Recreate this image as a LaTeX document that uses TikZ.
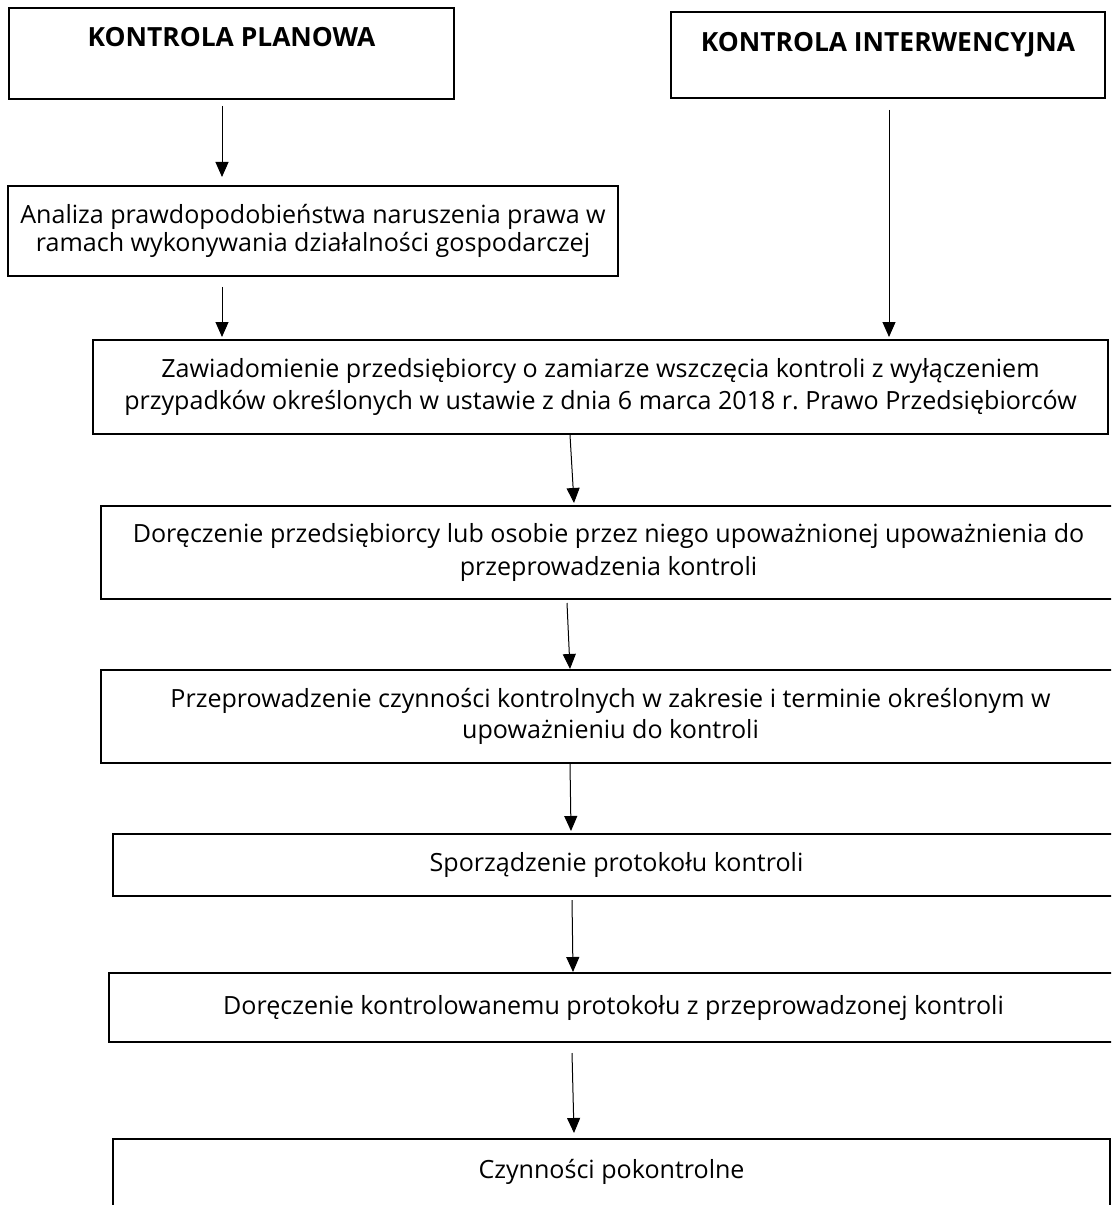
\documentclass[tikz,border=0pt]{standalone}
\usepackage{fontspec}
\setmainfont{Open Sans}
\usetikzlibrary{arrows.meta}
\frenchspacing
\newdimen\pxu
\pxu=0.75pt
\tikzset{
  box/.style={draw=black, line width=1.05pt, inner xsep=0pt, inner ysep=0pt, outer sep=0pt,
    anchor=north west, align=center, font=\fontsize{18.8}{24.5}\selectfont},
  topbox/.style={box, font=\fontsize{19.8}{24.5}\selectfont\bfseries},
  arr/.style={draw=black, line width=0.75pt, -{Triangle[length=11.25pt,width=9.75pt]}}
}
\begin{document}
\begin{tikzpicture}[x=0.75pt,y=-0.75pt]
\useasboundingbox (0,0) rectangle (1111,1205);
\clip (0,0) rectangle (1111,1205);
\fill[white] (0,0) rectangle (1111,1205);

\node[topbox, minimum width=445\pxu, text height=39\pxu, text depth=52\pxu] (plan) at (9,8) {KONTROLA PLANOWA};
\node[topbox, minimum width=434\pxu, text height=40\pxu, text depth=46\pxu] (interw) at (671,12) {KONTROLA INTERWENCYJNA};

\node[box, minimum width=610\pxu, minimum height=90\pxu, font=\fontsize{18.8}{21.5}\selectfont] (anal) at (8,186)
  {Analiza prawdopodobieństwa naruszenia prawa w\\ramach wykonywania działalności gospodarczej};
\node[box, minimum width=1015\pxu, minimum height=94\pxu] (zaw) at (93,340)
  {Zawiadomienie przedsiębiorcy o zamiarze wszczęcia kontroli z wyłączeniem\\przypadków określonych w ustawie z dnia 6 marca 2018 r. Prawo Przedsiębiorców};
\node[box, minimum width=1015\pxu, minimum height=93\pxu] (dor1) at (101,506)
  {Doręczenie przedsiębiorcy lub osobie przez niego upoważnionej upoważnienia do\\przeprowadzenia kontroli};
\node[box, minimum width=1019\pxu, minimum height=93\pxu, font=\fontsize{18.8}{23}\selectfont] (prz) at (101,670)
  {Przeprowadzenie czynności kontrolnych w zakresie i terminie określonym w\\upoważnieniu do kontroli};
\node[box, minimum width=1007\pxu, minimum height=62\pxu] (spo) at (113,834)
  {Sporządzenie protokołu kontroli};
\node[box, minimum width=1009\pxu, minimum height=69\pxu] (dor2) at (109,973)
  {Doręczenie kontrolowanemu protokołu z przeprowadzonej kontroli};
\node[box, minimum width=997\pxu, text height=39\pxu, text depth=70\pxu] (czy) at (113,1139)
  {Czynności pokontrolne};

\draw[arr] ([xshift=-7.125pt,yshift=-5.25pt]plan.south) -- ([xshift=-68.25pt,yshift=6.75pt]anal.north);
\draw[arr] ([xshift=-68.25pt,yshift=-8.25pt]anal.south) -- ([xshift=-283.875pt,yshift=2.25pt]zaw.north);
\draw[arr] ([xshift=0.75pt,yshift=-9pt]interw.south) -- ([xshift=216.375pt,yshift=2.25pt]zaw.north);
\draw[arr] ([xshift=-22.875pt,yshift=-0.75pt]zaw.south) -- ([xshift=-25.875pt,yshift=2.25pt]dor1.north);
\draw[arr] ([xshift=-31.125pt,yshift=-3pt]dor1.south) -- ([xshift=-30.375pt,yshift=0.75pt]prz.north);
\draw[arr] ([xshift=-30.375pt,yshift=-0.75pt]prz.south) -- ([xshift=-34.125pt,yshift=2.25pt]spo.north);
\draw[arr] ([xshift=-33.375pt,yshift=-3pt]spo.south) -- ([xshift=-30.375pt,yshift=0.75pt]dor2.north);
\draw[arr] ([xshift=-31.125pt,yshift=-8.25pt]dor2.south) -- ([xshift=-28.125pt,yshift=4.5pt]czy.north);
\end{tikzpicture}
\end{document}
